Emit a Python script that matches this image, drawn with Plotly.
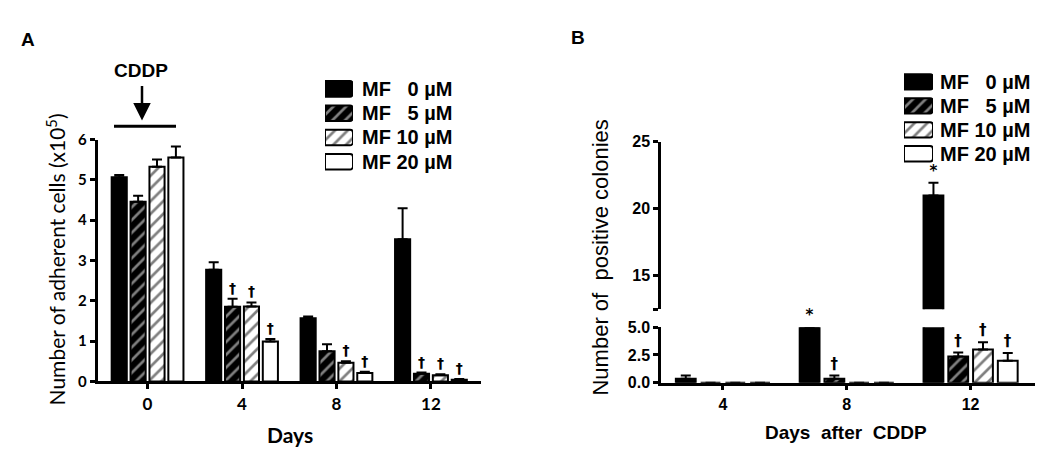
import plotly.graph_objects as go

# ---------------- data ----------------
days_a = ["0", "4", "8", "12"]
days_b = ["4", "8", "12"]
series_names = ["MF \u20070 \u00b5M", "MF \u20075 \u00b5M", "MF 10 \u00b5M", "MF 20 \u00b5M"]

# Panel A: number of adherent cells (x10^5)
a_mf0 = [5.07, 2.77, 1.57, 3.53]
a_mf5 = [4.46, 1.85, 0.75, 0.19]
a_mf10 = [5.33, 1.86, 0.46, 0.15]
a_mf20 = [5.56, 0.99, 0.21, 0.04]
a_err0 = [0.05, 0.19, 0.04, 0.77]
a_err5 = [0.15, 0.20, 0.17, 0.03]
a_err10 = [0.18, 0.10, 0.04, 0.03]
a_err20 = [0.27, 0.06, 0.03, 0.02]
a_mark0 = ["", "", "", ""]
a_mark5 = ["", "\u2020", "", "\u2020"]
a_mark10 = ["", "\u2020", "\u2020", "\u2020"]
a_mark20 = ["", "\u2020", "\u2020", "\u2020"]

# Panel B: number of positive colonies
b_mf0 = [0.35, 5.0, 21.0]
b_mf5 = [0.0, 0.35, 2.36]
b_mf10 = [0.0, 0.0, 2.99]
b_mf20 = [0.0, 0.0, 1.98]
b_err0 = [0.30, 0.0, 0.95]
b_err5 = [0.0, 0.30, 0.35]
b_err10 = [0.0, 0.0, 0.65]
b_err20 = [0.0, 0.0, 0.70]
b_mark_low0 = ["", "*", ""]
b_mark_low5 = ["", "\u2020", "\u2020"]
b_mark_low10 = ["", "", "\u2020"]
b_mark_low20 = ["", "", "\u2020"]
b_mark_up0 = ["", "", "*"]
b_mark_up5 = ["", "", ""]
b_mark_up10 = ["", "", ""]
b_mark_up20 = ["", "", ""]

legend_unit = [1, 1, 1, 1]

# ---------------- styles ----------------
W, H = 1050, 453
def px(x):
    return x / W
def py(y):
    return 1 - y / H

LINE = dict(color="black", width=2)
def marker_for(i, radius=0):
    if i == 0:
        m = dict(color="black", line=LINE)
    elif i == 1:
        m = dict(color="black", line=LINE,
                 pattern=dict(shape="/", bgcolor="black", fgcolor="white", size=9, solidity=0.3))
    elif i == 2:
        m = dict(color="white", line=LINE,
                 pattern=dict(shape="/", bgcolor="white", fgcolor="black", size=9, solidity=0.3))
    else:
        m = dict(color="white", line=LINE)
    if radius:
        m["cornerradius"] = radius
    return m

ARIAL = "Liberation Sans, Arial, sans-serif"
CALIBRI = "Lato, Carlito, Calibri, sans-serif"
MARKFONT = "DejaVu Sans, sans-serif"

fig = go.Figure()

def add_panel(xs, vals_list, errs_list, marks_list, xaxis, yaxis, prefix, mark_size):
    for i, (vals, errs, marks) in enumerate(zip(vals_list, errs_list, marks_list)):
        fig.add_trace(go.Bar(
            x=xs, y=vals, name=series_names[i], marker=marker_for(i),
            error_y=dict(type="data", symmetric=False, array=errs, arrayminus=[0] * len(errs),
                         color="black", thickness=2, width=5),
            xaxis=xaxis, yaxis=yaxis, offsetgroup=f"{prefix}{i}", showlegend=False,
            hoverinfo="skip"))
        tops = [v + e for v, e in zip(vals, errs)]
        mfont = dict(family=MARKFONT, size=mark_size, color="#000000", weight="bold")
        fig.add_trace(go.Bar(
            x=xs, y=tops, text=marks, textposition="outside", cliponaxis=False,
            constraintext="none", textfont=mfont, outsidetextfont=mfont,
            marker=dict(color="rgba(255,255,255,0)", line=dict(width=0)),
            xaxis=xaxis, yaxis=yaxis, offsetgroup=f"{prefix}{i}", showlegend=False,
            hoverinfo="skip"))

add_panel(days_a, [a_mf0, a_mf5, a_mf10, a_mf20], [a_err0, a_err5, a_err10, a_err20],
          [a_mark0, a_mark5, a_mark10, a_mark20], "x", "y", "a", 14)
add_panel(days_b, [b_mf0, b_mf5, b_mf10, b_mf20], [b_err0, b_err5, b_err10, b_err20],
          [b_mark_low0, b_mark_low5, b_mark_low10, b_mark_low20], "x2", "y2", "b", 15)
add_panel(days_b, [b_mf0, b_mf5, b_mf10, b_mf20], [b_err0, b_err5, b_err10, b_err20],
          [b_mark_up0, b_mark_up5, b_mark_up10, b_mark_up20], "x2", "y3", "b", 15)

# legend swatches (drawn as bars on hidden axes)
for xa, ya in (("x3", "y4"), ("x4", "y5")):
    for i, name in enumerate(series_names):
        fig.add_trace(go.Bar(
            x=[legend_unit[i]], y=[name], orientation="h", marker=marker_for(i, radius=3),
            xaxis=xa, yaxis=ya, offsetgroup="sw", cliponaxis=False, showlegend=False,
            hoverinfo="skip"))

axis_common = dict(showline=True, linecolor="black", linewidth=2.5, ticks="outside",
                   ticklen=5, tickwidth=2.5, tickcolor="black", showgrid=False, zeroline=False)
legend_axis = dict(type="category", categoryarray=series_names, tickmode="array",
                   tickvals=series_names, autorange="reversed", side="right", showline=False,
                   showgrid=False, zeroline=False, ticks="outside", tickcolor="rgba(0,0,0,0)",
                   tickfont=dict(family=ARIAL, size=20, color="black", weight="bold"))

fig.update_layout(
    width=W, height=H, margin=dict(l=0, r=0, t=0, b=0),
    paper_bgcolor="white", plot_bgcolor="rgba(0,0,0,0)",
    barmode="group", bargap=0.2, bargroupgap=0.2, showlegend=False,
    xaxis=dict(domain=[px(89.5), px(473)], type="category", range=[-0.53, 3.53], anchor="y",
               tickfont=dict(family=CALIBRI, size=17, color="black", weight="bold"), **axis_common),
    yaxis=dict(domain=[py(379.3), py(127)], range=[0, 6], dtick=1, anchor="x",
               tickfont=dict(family=CALIBRI, size=15, color="black", weight="bold"), **axis_common),
    xaxis2=dict(domain=[px(653), px(1027)], type="category", range=[-0.5, 2.52], anchor="y2",
                tickfont=dict(family=ARIAL, size=16, color="black", weight="bold"), **axis_common),
    yaxis2=dict(domain=[py(380.7), py(322.7)], range=[0, 5], tickvals=[0, 2.5, 5], tickformat=".1f",
                anchor="x2", tickfont=dict(family=ARIAL, size=16, color="black", weight="bold"),
                **axis_common),
    yaxis3=dict(domain=[py(304), py(129.3)], range=[12.5, 25], tickvals=[12.5, 15, 20, 25],
                ticktext=["", "15", "20", "25"], anchor="x2",
                tickfont=dict(family=ARIAL, size=16, color="black", weight="bold"), **axis_common),
    xaxis3=dict(domain=[px(317), px(345)], range=[0, 1], visible=False, anchor="y4"),
    yaxis4=dict(domain=[py(162.7), py(61.3)], anchor="x3", ticklen=4, **legend_axis),
    xaxis4=dict(domain=[px(896), px(925)], range=[0, 1], visible=False, anchor="y5"),
    yaxis5=dict(domain=[py(154.2), py(54.2)], anchor="x4", ticklen=2, **legend_axis),
)

ann = [
    dict(text="<b>A</b>", x=px(20), y=py(22), font=dict(family=ARIAL, size=19)),
    dict(text="<b>B</b>", x=px(570), y=py(20), font=dict(family=ARIAL, size=19)),
    dict(text="<b>CDDP</b>", x=px(133), y=py(55), font=dict(family=ARIAL, size=19)),
    dict(text="Number of adherent cells (x10<sup>5</sup>)", x=px(48), y=py(252), textangle=-90,
         font=dict(family=CALIBRI, size=21)),
    dict(text="<b>Days</b>", x=px(282), y=py(435), font=dict(family=CALIBRI, size=21)),
    dict(text="Number of\u00a0 positive colonies", x=px(593), y=py(250), textangle=-90,
         font=dict(family=ARIAL, size=22)),
    dict(text="<b>Days\u00a0 after\u00a0 CDDP</b>", x=px(838), y=py(433), font=dict(family=ARIAL, size=19)),
]
for a in ann:
    a.update(xref="paper", yref="paper", showarrow=False, xanchor="center", yanchor="middle")
    a["font"]["color"] = "black"
    fig.add_annotation(**a)

# CDDP arrow
fig.add_annotation(x=px(134), y=py(107), xref="paper", yref="paper", ax=0, ay=-36, axref="pixel",
                   ayref="pixel", text="", showarrow=True, arrowhead=2, arrowsize=1.4,
                   arrowwidth=2.5, arrowcolor="black")
fig.add_shape(type="line", xref="paper", yref="paper", x0=px(106), x1=px(168), y0=py(113), y1=py(113),
              line=dict(color="black", width=3))

fig.write_html("out.html")
